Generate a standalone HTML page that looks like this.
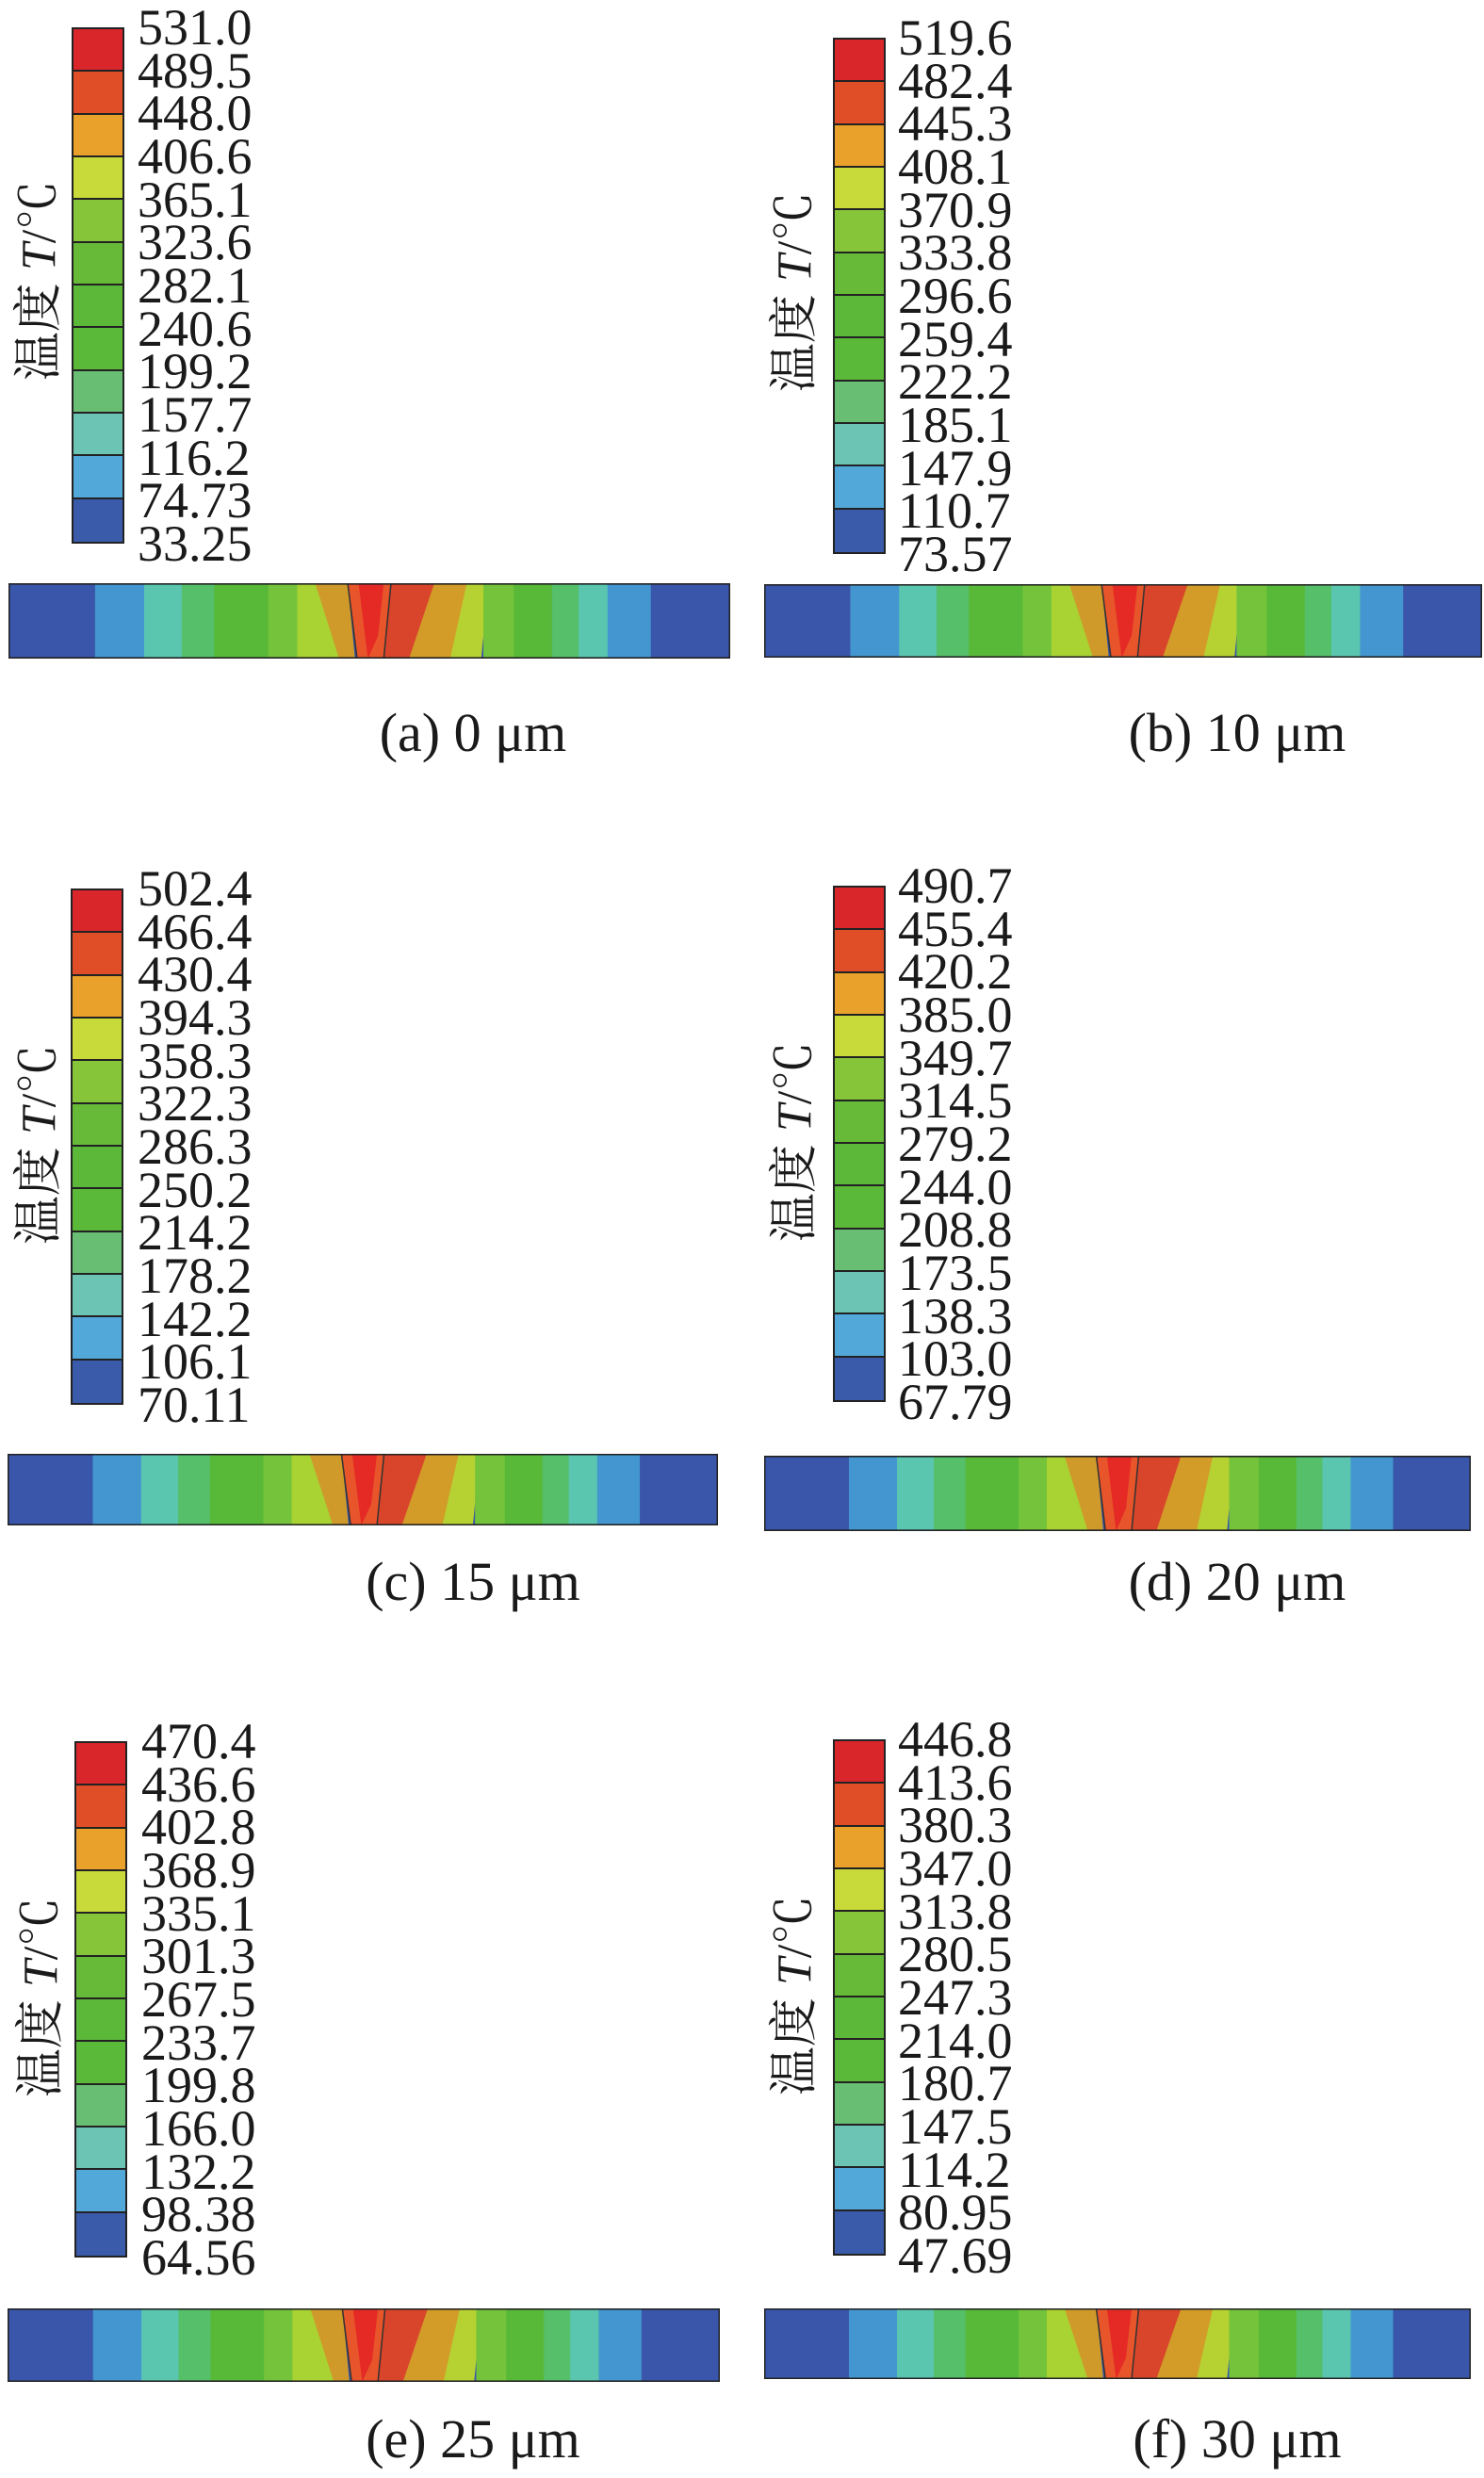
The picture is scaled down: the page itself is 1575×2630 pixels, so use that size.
<!DOCTYPE html>
<html><head><meta charset="utf-8"><style>
body{margin:0;width:1575px;height:2630px;background:#fff;position:relative;overflow:hidden;font-family:"Liberation Serif","Noto Serif CJK SC",serif;color:#1a1a1a}
.cb{position:absolute;width:56px;border:2px solid #222;box-sizing:border-box}
.cb div{height:calc(100% / 12);border-bottom:2px solid #222;box-sizing:border-box}
.cb div:last-child{border-bottom:none}
.lab{position:absolute;font-size:54px;line-height:45.67px;white-space:pre}
.ttl{position:absolute;font-size:52px;transform:translate(-50%,-50%) rotate(-90deg);white-space:nowrap}
.cap{position:absolute;font-size:58px;white-space:nowrap;transform:translateX(-50%)}
svg{position:absolute}
.c1{background:#d9262b}.c2{background:#e04e27}.c3{background:#e9a12b}.c4{background:#c8da3a}.c5{background:#86c43a}.c6{background:#66ba38}.c7{background:#5cb838}.c8{background:#5ab938}.c9{background:#68bf74}.c10{background:#6cc4b4}.c11{background:#52a9d9}.c12{background:#3a5ba9}
</style></head><body>

<div class="cb" style="left:76px;top:29px;height:548px"><div class="c1"></div><div class="c2"></div><div class="c3"></div><div class="c4"></div><div class="c5"></div><div class="c6"></div><div class="c7"></div><div class="c8"></div><div class="c9"></div><div class="c10"></div><div class="c11"></div><div class="c12"></div></div>
<div class="lab" style="left:146px;top:7px">531.0
489.5
448.0
406.6
365.1
323.6
282.1
240.6
199.2
157.7
116.2
74.73
33.25</div>
<div class="ttl" style="left:36px;top:298px">温度 <i>T</i>/℃</div>

<div class="cb" style="left:884px;top:40px;height:548px"><div class="c1"></div><div class="c2"></div><div class="c3"></div><div class="c4"></div><div class="c5"></div><div class="c6"></div><div class="c7"></div><div class="c8"></div><div class="c9"></div><div class="c10"></div><div class="c11"></div><div class="c12"></div></div>
<div class="lab" style="left:953px;top:18px">519.6
482.4
445.3
408.1
370.9
333.8
296.6
259.4
222.2
185.1
147.9
110.7
73.57</div>
<div class="ttl" style="left:838px;top:310px">温度 <i>T</i>/℃</div>

<div class="cb" style="left:75px;top:943px;height:548px"><div class="c1"></div><div class="c2"></div><div class="c3"></div><div class="c4"></div><div class="c5"></div><div class="c6"></div><div class="c7"></div><div class="c8"></div><div class="c9"></div><div class="c10"></div><div class="c11"></div><div class="c12"></div></div>
<div class="lab" style="left:146px;top:921px">502.4
466.4
430.4
394.3
358.3
322.3
286.3
250.2
214.2
178.2
142.2
106.1
70.11</div>
<div class="ttl" style="left:36px;top:1215px">温度 <i>T</i>/℃</div>

<div class="cb" style="left:884px;top:940px;height:548px"><div class="c1"></div><div class="c2"></div><div class="c3"></div><div class="c4"></div><div class="c5"></div><div class="c6"></div><div class="c7"></div><div class="c8"></div><div class="c9"></div><div class="c10"></div><div class="c11"></div><div class="c12"></div></div>
<div class="lab" style="left:953px;top:918px">490.7
455.4
420.2
385.0
349.7
314.5
279.2
244.0
208.8
173.5
138.3
103.0
67.79</div>
<div class="ttl" style="left:838px;top:1212px">温度 <i>T</i>/℃</div>

<div class="cb" style="left:79px;top:1848px;height:548px"><div class="c1"></div><div class="c2"></div><div class="c3"></div><div class="c4"></div><div class="c5"></div><div class="c6"></div><div class="c7"></div><div class="c8"></div><div class="c9"></div><div class="c10"></div><div class="c11"></div><div class="c12"></div></div>
<div class="lab" style="left:150px;top:1826px">470.4
436.6
402.8
368.9
335.1
301.3
267.5
233.7
199.8
166.0
132.2
98.38
64.56</div>
<div class="ttl" style="left:38px;top:2120px">温度 <i>T</i>/℃</div>

<div class="cb" style="left:884px;top:1846px;height:548px"><div class="c1"></div><div class="c2"></div><div class="c3"></div><div class="c4"></div><div class="c5"></div><div class="c6"></div><div class="c7"></div><div class="c8"></div><div class="c9"></div><div class="c10"></div><div class="c11"></div><div class="c12"></div></div>
<div class="lab" style="left:953px;top:1824px">446.8
413.6
380.3
347.0
313.8
280.5
247.3
214.0
180.7
147.5
114.2
80.95
47.69</div>
<div class="ttl" style="left:838px;top:2118px">温度 <i>T</i>/℃</div>

<svg width="0" height="0" style="position:absolute">
<defs>
<g id="strip">
<rect x="0" y="0" width="1000" height="100" fill="#3a56aa"/>
<rect x="120" y="0" width="70" height="100" fill="#4396cf"/>
<rect x="188" y="0" width="54" height="100" fill="#5ac6b0"/>
<rect x="240" y="0" width="46" height="100" fill="#55bf6a"/>
<rect x="285" y="0" width="80" height="100" fill="#58b938"/>
<rect x="360" y="0" width="50" height="100" fill="#74c33a"/>
<polygon points="400,0 440,0 462,100 400,100" fill="#a9d233"/>
<polygon points="425,0 470,0 480,100 458,100" fill="#cf9a2a"/>
<polygon points="470,0 530,0 520,100 483,100" fill="#e8552a"/>
<polygon points="485,0 520,0 512,70 498,100" fill="#e52a26"/>
<polygon points="530,0 615,0 585,40 555,100 520,100" fill="#d8452a"/>
<polygon points="590,0 640,0 615,100 555,100" fill="#d39b28"/>
<polygon points="635,0 665,0 655,100 612,100" fill="#b6d232"/>
<rect x="658" y="0" width="45" height="100" fill="#74c33a"/>
<rect x="700" y="0" width="55" height="100" fill="#58b938"/>
<rect x="753" y="0" width="40" height="100" fill="#55bf6a"/>
<rect x="790" y="0" width="42" height="100" fill="#5ac6b0"/>
<rect x="830" y="0" width="60" height="100" fill="#4396cf"/>
<line x1="470" y1="0" x2="483" y2="100" stroke="#333" stroke-width="2"/>
<line x1="530" y1="0" x2="520" y2="100" stroke="#333" stroke-width="2"/>
</g>
</defs>
</svg>

<svg style="left:9px;top:619px" width="766" height="80" viewBox="0 0 1000 100" preserveAspectRatio="none"><use href="#strip"/><rect x="0" y="0" width="1000" height="100" fill="none" stroke="#222" stroke-width="4"/></svg>
<svg style="left:811px;top:620px" width="762" height="78" viewBox="0 0 1000 100" preserveAspectRatio="none"><use href="#strip"/><rect x="0" y="0" width="1000" height="100" fill="none" stroke="#222" stroke-width="4"/></svg>
<svg style="left:8px;top:1543px" width="754" height="76" viewBox="0 0 1000 100" preserveAspectRatio="none"><use href="#strip"/><rect x="0" y="0" width="1000" height="100" fill="none" stroke="#222" stroke-width="4"/></svg>
<svg style="left:811px;top:1545px" width="750" height="80" viewBox="0 0 1000 100" preserveAspectRatio="none"><use href="#strip"/><rect x="0" y="0" width="1000" height="100" fill="none" stroke="#222" stroke-width="4"/></svg>
<svg style="left:8px;top:2450px" width="756" height="78" viewBox="0 0 1000 100" preserveAspectRatio="none"><use href="#strip"/><rect x="0" y="0" width="1000" height="100" fill="none" stroke="#222" stroke-width="4"/></svg>
<svg style="left:811px;top:2450px" width="750" height="75" viewBox="0 0 1000 100" preserveAspectRatio="none"><use href="#strip"/><rect x="0" y="0" width="1000" height="100" fill="none" stroke="#222" stroke-width="4"/></svg>

<div class="cap" style="left:502px;top:744px">(a) 0 μm</div>
<div class="cap" style="left:1313px;top:744px">(b) 10 μm</div>
<div class="cap" style="left:502px;top:1645px">(c) 15 μm</div>
<div class="cap" style="left:1313px;top:1645px">(d) 20 μm</div>
<div class="cap" style="left:502px;top:2555px">(e) 25 μm</div>
<div class="cap" style="left:1313px;top:2555px">(f) 30 μm</div>
</body></html>
